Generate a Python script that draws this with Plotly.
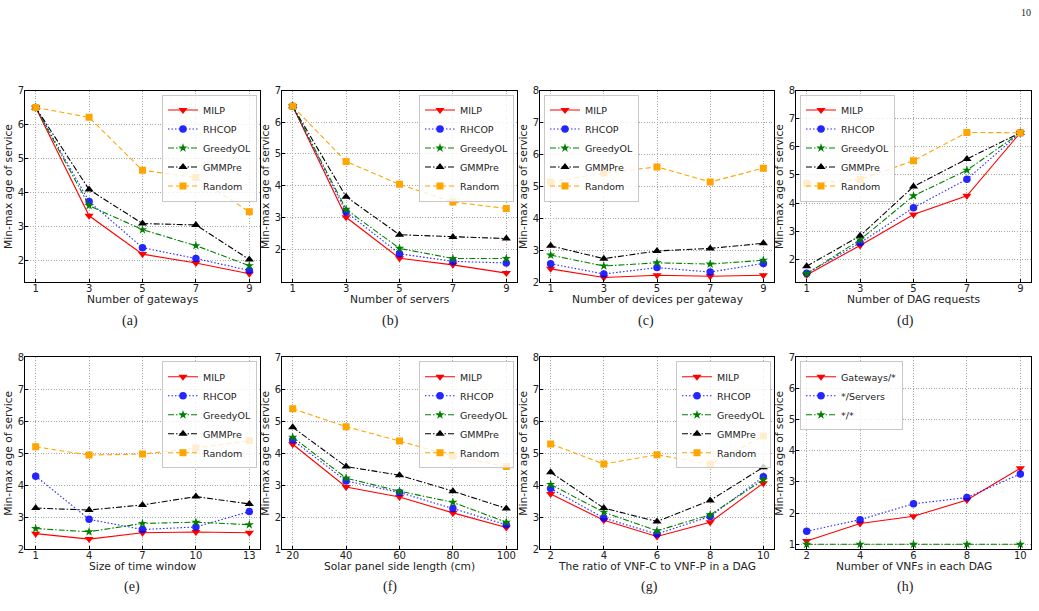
import plotly.graph_objects as go

W, H = 1039, 611

# ---------------- data ----------------
methods = ["MILP", "RHCOP", "GreedyOL", "GMMPre", "Random"]

# (a) Number of gateways
gw_x = [1, 3, 5, 7, 9]
gw_milp = [6.5, 3.31, 2.18, 1.92, 1.60]
gw_rhcop = [6.5, 3.73, 2.37, 2.05, 1.70]
gw_greedy = [6.5, 3.61, 2.90, 2.43, 1.84]
gw_gmm = [6.5, 4.08, 3.08, 3.04, 2.02]
gw_random = [6.5, 6.21, 4.65, 4.44, 3.43]

# (b) Number of servers
sv_x = [1, 3, 5, 7, 9]
sv_milp = [6.5, 3.00, 1.71, 1.50, 1.24]
sv_rhcop = [6.5, 3.17, 1.85, 1.61, 1.56]
sv_greedy = [6.5, 3.25, 2.02, 1.70, 1.70]
sv_gmm = [6.5, 3.65, 2.45, 2.38, 2.33]
sv_random = [6.5, 4.76, 4.04, 3.48, 3.28]

# (c) Number of devices per gateway
dv_x = [1, 3, 5, 7, 9]
dv_milp = [2.42, 2.15, 2.22, 2.19, 2.22]
dv_rhcop = [2.58, 2.26, 2.46, 2.32, 2.59]
dv_greedy = [2.85, 2.51, 2.61, 2.57, 2.69]
dv_gmm = [3.14, 2.74, 2.98, 3.06, 3.22]
dv_random = [5.14, 5.42, 5.61, 5.14, 5.57]

# (d) Number of DAG requests
dg_x = [1, 3, 5, 7, 9]
dg_milp = [1.45, 2.50, 3.60, 4.26, 6.5]
dg_rhcop = [1.51, 2.59, 3.84, 4.85, 6.5]
dg_greedy = [1.49, 2.70, 4.26, 5.17, 6.5]
dg_gmm = [1.76, 2.84, 4.59, 5.57, 6.5]
dg_random = [4.70, 4.84, 5.51, 6.51, 6.5]

# (e) Size of time window
tw_x = [1, 4, 7, 10, 13]
tw_milp = [2.48, 2.31, 2.51, 2.53, 2.51]
tw_rhcop = [4.28, 2.93, 2.61, 2.69, 3.17]
tw_greedy = [2.64, 2.54, 2.80, 2.84, 2.76]
tw_gmm = [3.28, 3.22, 3.38, 3.64, 3.41]
tw_random = [5.20, 4.94, 4.97, 5.16, 5.39]

# (f) Solar panel side length (cm)
sp_x = [20, 40, 60, 80, 100]
sp_milp = [4.28, 2.94, 2.63, 2.13, 1.67]
sp_rhcop = [4.41, 3.13, 2.77, 2.27, 1.76]
sp_greedy = [4.50, 3.22, 2.81, 2.46, 1.84]
sp_gmm = [4.81, 3.58, 3.31, 2.81, 2.27]
sp_random = [5.39, 4.83, 4.38, 3.91, 3.58]

# (g) Ratio of VNF-C to VNF-P
rt_x = [2, 4, 6, 8, 10]
rt_milp = [3.72, 2.90, 2.39, 2.84, 4.06]
rt_rhcop = [3.89, 2.97, 2.47, 3.02, 4.26]
rt_greedy = [4.02, 3.15, 2.57, 3.07, 4.17]
rt_gmm = [4.40, 3.28, 2.86, 3.52, 4.56]
rt_random = [5.29, 4.66, 4.95, 4.65, 5.54]

# (h) Number of VNFs in each DAG
vn_x = [2, 4, 6, 8, 10]
vn_series = ["Gateways/*", "*/Servers", "*/*"]
vn_gw = [1.11, 1.67, 1.90, 2.42, 3.44]
vn_sv = [1.42, 1.79, 2.30, 2.50, 3.26]
vn_all = [1.0, 1.0, 1.0, 1.0, 1.0]

x_titles = ["Number of gateways", "Number of servers", "Number of devices per gateway",
            "Number of DAG requests", "Size of time window", "Solar panel side length (cm)",
            "The ratio of VNF-C to VNF-P in a DAG", "Number of VNFs in each DAG"]
captions = ["(a)", "(b)", "(c)", "(d)", "(e)", "(f)", "(g)", "(h)"]
y_title = "Min-max age of service"

# ---------------- styles ----------------
styles = [
    dict(color="#ff0000", dash="solid", symbol="triangle-down", size=8),
    dict(color="#0000ff", dash="1.5px,2px", symbol="circle", size=7.5),
    dict(color="#008000", dash="6px,2px,1.5px,2px", symbol="star", size=7),
    dict(color="#000000", dash="6px,2px,1.5px,2px", symbol="triangle-up", size=8),
    dict(color="#ffa500", dash="5px,3px", symbol="square", size=7),
]

panels = [
    (gw_x, [gw_milp, gw_rhcop, gw_greedy, gw_gmm, gw_random], methods),
    (sv_x, [sv_milp, sv_rhcop, sv_greedy, sv_gmm, sv_random], methods),
    (dv_x, [dv_milp, dv_rhcop, dv_greedy, dv_gmm, dv_random], methods),
    (dg_x, [dg_milp, dg_rhcop, dg_greedy, dg_gmm, dg_random], methods),
    (tw_x, [tw_milp, tw_rhcop, tw_greedy, tw_gmm, tw_random], methods),
    (sp_x, [sp_milp, sp_rhcop, sp_greedy, sp_gmm, sp_random], methods),
    (rt_x, [rt_milp, rt_rhcop, rt_greedy, rt_gmm, rt_random], methods),
    (vn_x, [vn_gw, vn_sv, vn_all], vn_series),
]

x_ranges = [[0.6, 9.4], [0.6, 9.4], [0.6, 9.4], [0.6, 9.4],
            [0.4, 13.6], [16, 104], [1.6, 10.4], [1.6, 10.4]]
y_ranges = [[1.35, 7.0], [0.95, 7.0], [2, 8], [1.19, 8],
            [2, 8], [1, 7], [2, 8], [0.85, 7]]
y_ticks = [[2, 3, 4, 5, 6, 7], [2, 3, 4, 5, 6, 7], [2, 3, 4, 5, 6, 7, 8], [2, 3, 4, 5, 6, 7, 8],
           [2, 3, 4, 5, 6, 7, 8], [1, 2, 3, 4, 5, 6, 7], [2, 3, 4, 5, 6, 7, 8], [1, 2, 3, 4, 5, 6, 7]]
legend_side = ["right", "right", "left", "left", "right", "right", "right", "left"]

# geometry (pixels)
col_px = [(25, 260), (282, 517), (540, 774), (796, 1031)]
row_px = [(90.5, 282.3), (357.3, 549.0)]
caption_x = [130, 390, 646, 905, 132, 390, 649, 905]
caption_y = [321, 587]
xtitle_y = [299.5, 566]

fig = go.Figure()
layout = dict(
    width=W, height=H, margin=dict(l=0, r=0, t=0, b=0),
    paper_bgcolor="white", plot_bgcolor="white",
    font=dict(family="DejaVu Sans", size=10, color="#222"),
    annotations=[],
)

for i, (xs, ys_list, names) in enumerate(panels):
    r, c = divmod(i, 4)
    x0, x1 = col_px[c]
    yt, yb = row_px[r]
    sfx = "" if i == 0 else str(i + 1)
    lg = "legend" if i == 0 else f"legend{i + 1}"
    for j, (ys, name) in enumerate(zip(ys_list, names)):
        st = styles[j]
        fig.add_trace(go.Scatter(
            x=xs, y=ys, name=name, mode="lines+markers",
            xaxis="x" + sfx, yaxis="y" + sfx, legend=lg,
            line=dict(color=st["color"], width=1.1, dash=st["dash"]),
            marker=dict(symbol=st["symbol"], size=st["size"], color=st["color"],
                        line=dict(width=0)),
            opacity=0.85 if j == 1 else 1.0,
        ))
    axis_common = dict(
        showline=True, linecolor="black", linewidth=1, mirror=True,
        showgrid=True, gridcolor="#a8a8a8", griddash="1px,1.6px", gridwidth=1,
        ticks="inside", ticklen=3, tickcolor="black", zeroline=False,
        tickfont=dict(family="DejaVu Sans", size=10, color="#222"),
        automargin=False,
    )
    layout["xaxis" + sfx] = dict(
        axis_common, domain=[x0 / W, x1 / W], anchor="y" + sfx,
        range=x_ranges[i], tickvals=xs, ticklabelstandoff=-3,
    )
    layout["yaxis" + sfx] = dict(
        axis_common, domain=[1 - yb / H, 1 - yt / H], anchor="x" + sfx,
        range=y_ranges[i], tickvals=y_ticks[i], ticklabelstandoff=-2,
    )
    if legend_side[i] == "right":
        lx, xa = (x1 - 3) / W, "right"
    else:
        lx, xa = (x0 + 4) / W, "left"
    layout[lg] = dict(
        x=lx, xanchor=xa, y=1 - (yt + 4) / H, yanchor="top",
        bgcolor="rgba(255,255,255,0.8)", bordercolor="#c8c8c8", borderwidth=1,
        font=dict(family="DejaVu Sans", size=9.5, color="#222"),
        itemwidth=30, tracegroupgap=0,
    )
    # axis titles
    layout["annotations"].append(dict(
        text=x_titles[i], x=(x0 + x1) / 2 / W, y=1 - xtitle_y[r] / H,
        xref="paper", yref="paper", showarrow=False, xanchor="center", yanchor="middle",
        font=dict(family="DejaVu Sans", size=10.7, color="#222"),
    ))
    layout["annotations"].append(dict(
        text=y_title, x=(x0 - 16.5) / W, y=1 - (yt + yb) / 2 / H, textangle=-90,
        xref="paper", yref="paper", showarrow=False, xanchor="center", yanchor="middle",
        font=dict(family="DejaVu Sans", size=10.7, color="#222"),
    ))
    layout["annotations"].append(dict(
        text=captions[i], x=caption_x[i] / W, y=1 - caption_y[r] / H,
        xref="paper", yref="paper", showarrow=False, xanchor="center", yanchor="middle",
        font=dict(family="Liberation Serif", size=14, color="#222"),
    ))

layout["annotations"].append(dict(
    text="10", x=1026 / W, y=1 - 12.5 / H, xref="paper", yref="paper", showarrow=False,
    xanchor="center", yanchor="middle",
    font=dict(family="Liberation Serif", size=10, color="#222"),
))

fig.update_layout(**layout)
fig.write_html("out.html")
